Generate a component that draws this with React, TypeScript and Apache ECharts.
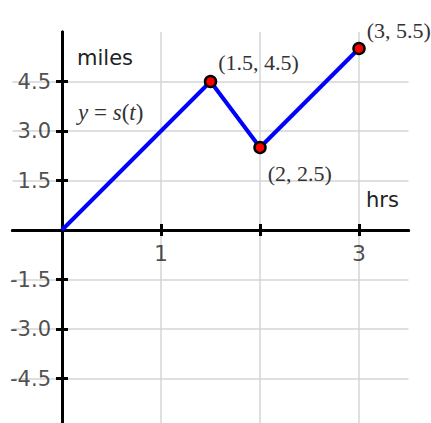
import React, { useEffect, useRef } from 'react';
import * as echarts from 'echarts';

const times = [0, 1.5, 2, 3];
const miles = [0, 4.5, 2.5, 5.5];
const pointLabels = ['', '(1.5, 4.5)', '(2, 2.5)', '(3, 5.5)'];
const xTicks = [1, 2, 3];
const xTickLabels = [1, 3];
const yTicks = [-4.5, -3, -1.5, 1.5, 3, 4.5];

export default function App() {
  const ref = useRef<HTMLDivElement>(null);
  useEffect(() => {
    const chart = echarts.init(ref.current!, null, { renderer: 'svg' });
    const labelOffsets = [[0, 0], [0, -19], [0, 26], [0, -18]];
    const data = times.map((t, i) => ({
      value: [t, miles[i]],
      symbol: i === 0 ? 'none' : 'circle',
      label: { show: i > 0, formatter: pointLabels[i], offset: labelOffsets[i] },
    }));
    const black = '#000';
    const gridLine = { show: true, lineStyle: { color: '#d4d4d4', width: 1.5 } };
    const sans = 'DejaVu Sans';
    const serif = 'Liberation Serif';
    const xBase = {
      type: 'value' as const,
      min: -0.5,
      max: 3.5,
      interval: 0.5,
      axisLine: { show: true, onZero: true, onZeroAxisIndex: 0, lineStyle: { color: black, width: 3 } },
      axisLabel: { show: false },
    };
    const yBase = {
      type: 'value' as const,
      min: -6,
      max: 6,
      interval: 1.5,
      axisLine: { show: true, onZero: true, onZeroAxisIndex: 0, lineStyle: { color: black, width: 3 } },
      axisLabel: { show: false },
    };
    const tickStyle = { color: black, width: 3 };
    chart.setOption({
      animation: false,
      backgroundColor: '#fff',
      grid: { left: 12.5, top: 32, width: 396, height: 396, containLabel: false, outerBoundsMode: 'none' },
      xAxis: [
        {
          ...xBase,
          position: 'bottom',
          axisTick: { show: true, customValues: xTicks, length: 6, lineStyle: tickStyle },
          splitLine: gridLine,
        },
        {
          ...xBase,
          position: 'top',
          axisTick: { show: true, customValues: xTicks, length: 6, lineStyle: tickStyle },
          splitLine: { show: false },
        },
      ],
      yAxis: [
        {
          ...yBase,
          position: 'left',
          axisTick: { show: true, customValues: yTicks, length: 6, lineStyle: tickStyle },
          splitLine: gridLine,
        },
        {
          ...yBase,
          position: 'right',
          axisTick: { show: true, customValues: yTicks, length: 6, lineStyle: tickStyle },
          splitLine: { show: false },
        },
      ],
      series: [
        {
          type: 'line',
          xAxisIndex: 0,
          yAxisIndex: 0,
          data,
          showSymbol: true,
          symbolSize: 11,
          lineStyle: { color: '#0000ff', width: 4 },
          itemStyle: { color: '#ff0000', borderColor: '#000', borderWidth: 2.5 },
          label: {
            position: 'right',
            distance: 1,
            fontSize: 22,
            fontFamily: serif,
            color: '#333',
          },
          z: 5,
          silent: true,
        },
        {
          type: 'scatter',
          name: 'xTickLabels',
          silent: true,
          symbolSize: 0,
          itemStyle: { color: 'transparent' },
          data: xTickLabels.map((v) => [v, 0]),
          label: {
            show: true,
            position: 'bottom',
            distance: 12,
            formatter: (p: any) => String(p.value[0]),
            fontSize: 22,
            fontFamily: sans,
            color: '#222',
          },
        },
        {
          type: 'scatter',
          name: 'yTickLabels',
          silent: true,
          symbolSize: 0,
          itemStyle: { color: 'transparent' },
          data: yTicks.map((v) => [0, v]),
          label: {
            show: true,
            position: 'left',
            distance: 11,
            formatter: (p: any) => Number(p.value[1]).toFixed(1),
            fontSize: 21,
            fontFamily: sans,
            color: '#222',
          },
        },
      ],
      graphic: [
        {
          type: 'text',
          x: 77,
          y: 58,
          style: { text: 'miles', fontSize: 21, fontFamily: sans, fill: '#222', textVerticalAlign: 'middle' },
        },
        {
          type: 'text',
          x: 78,
          y: 112,
          style: {
            text: '{i|y}{n| = }{i|s}({i|t})',
            fontSize: 23,
            fontFamily: serif,
            fill: '#333',
            textVerticalAlign: 'middle',
            rich: {
              i: { fontStyle: 'italic', fontSize: 23, fontFamily: serif, fill: '#333' },
              n: { fontSize: 23, fontFamily: serif, fill: '#333' },
            },
          },
        },
        {
          type: 'text',
          x: 366,
          y: 200,
          style: { text: 'hrs', fontSize: 21, fontFamily: sans, fill: '#222', textVerticalAlign: 'middle' },
        },
      ],
    });
    return () => chart.dispose();
  }, []);
  return <div ref={ref} style={{ position: 'absolute', left: 0, top: 0, width: 431, height: 423 }} />;
}
